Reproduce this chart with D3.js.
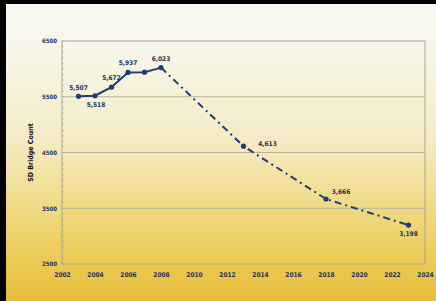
<!DOCTYPE html>
<html><head><meta charset="utf-8">
<script src="https://cdn.jsdelivr.net/npm/d3@7"></script>
<style>body{margin:0;background:#000}svg{display:block}</style>
</head><body>
<svg id="c" width="436" height="301"></svg>
<script>
const solidYears = [2003, 2004, 2005, 2006, 2007, 2008];
const solidValues = [5507, 5518, 5672, 5937, 5940, 6023];
const projYears = [2008, 2013, 2018, 2023];
const projValues = [6023, 4613, 3666, 3198];
const labelYears = [2003, 2004, 2005, 2006, 2008, 2013, 2018, 2023];
const labelTexts = ["5,507", "5,518", "5,672", "5,937", "6,023", "4,613", "3,666", "3,198"];
const xTicks = [2002, 2004, 2006, 2008, 2010, 2012, 2014, 2016, 2018, 2020, 2022, 2024];
const yTicks = [2500, 3500, 4500, 5500, 6500];
const yTitle = "SD Bridge Count";

const svg = d3.select("#c");
const W = 436, H = 301;
const defs = svg.append("defs");
const g = defs.append("linearGradient").attr("id","bg").attr("x1",0).attr("y1",0).attr("x2",0).attr("y2",1);
[[0,"#f9f8f2"],[0.15,"#f8f6ea"],[0.45,"#f4ebc6"],[0.68,"#f0da85"],[0.86,"#ecca55"],[1,"#e6bd3a"]]
  .forEach(([o,c])=>g.append("stop").attr("offset",o).attr("stop-color",c));

svg.append("rect").attr("x",6).attr("y",4).attr("width",W-6).attr("height",H-4).attr("fill","url(#bg)");

const m = {l:62, r:425, t:41, b:264};
const x = d3.scaleLinear().domain([2002,2024]).range([m.l,m.r]);
const y = d3.scaleLinear().domain([2500,6500]).range([m.b,m.t]);

svg.append("rect").attr("x",m.l).attr("y",m.t).attr("width",m.r-m.l).attr("height",m.b-m.t)
  .attr("fill","none").attr("stroke","#a8a78a").attr("stroke-width",1);
svg.append("g").selectAll("line").data(yTicks.slice(1,-1)).join("line")
  .attr("x1",m.l).attr("x2",m.r).attr("y1",d=>y(d)).attr("y2",d=>y(d))
  .attr("stroke","#b3b49c").attr("stroke-width",1);
const minor = d3.range(2500,6501,100);
svg.append("g").selectAll("line").data(minor).join("line")
  .attr("x1",m.l).attr("x2",m.l+2).attr("y1",d=>y(d)).attr("y2",d=>y(d))
  .attr("stroke","#a8a78a").attr("stroke-width",0.6);

const yAxis = d3.axisLeft(y).tickValues(yTicks).tickSize(0).tickPadding(5).tickFormat(d3.format("d"));
const ya = svg.append("g").attr("transform",`translate(${m.l},0)`).call(yAxis);
ya.select(".domain").remove();
ya.selectAll("text").attr("font-family","DejaVu Sans Condensed, DejaVu Sans").attr("font-weight","bold")
  .attr("font-size",6).attr("fill","#1c3260");

const xAxis = d3.axisBottom(x).tickValues(xTicks).tickSize(0).tickPadding(8).tickFormat(d3.format("d"));
const xa = svg.append("g").attr("transform",`translate(0,${m.b})`).call(xAxis);
xa.select(".domain").remove();
xa.selectAll("text").attr("font-family","DejaVu Sans Condensed, DejaVu Sans").attr("font-weight","bold")
  .attr("font-size",6.5).attr("fill","#1c3260");

svg.append("text").attr("transform",`translate(33,${(m.t+m.b)/2}) rotate(-90)`)
  .attr("text-anchor","middle").attr("font-family","DejaVu Sans Condensed, DejaVu Sans")
  .attr("font-weight","bold").attr("font-size",7).attr("fill","#111").text(yTitle);

const line = d3.line().x(d=>x(d[0])).y(d=>y(d[1]));
const col = "#1d3d78";
svg.append("path").datum(solidYears.map((d,i)=>[d,solidValues[i]])).attr("d",line)
  .attr("fill","none").attr("stroke",col).attr("stroke-width",2);
svg.append("path").datum(projYears.map((d,i)=>[d,projValues[i]])).attr("d",line)
  .attr("fill","none").attr("stroke",col).attr("stroke-width",2).attr("stroke-dasharray","7,4,2,4");

const pts = solidYears.map((d,i)=>[d,solidValues[i]]).concat(projYears.slice(1).map((d,i)=>[d,projValues[i+1]]));
svg.append("g").selectAll("circle").data(pts).join("circle")
  .attr("cx",d=>x(d[0])).attr("cy",d=>y(d[1])).attr("r",2.6).attr("fill",col);

const allY = solidYears.concat(projYears.slice(1));
const allV = solidValues.concat(projValues.slice(1));
const off = {2003:[0,-6],2004:[1,11],2005:[0,-7],2006:[0,-7],2008:[0,-7],2013:[24,0],2018:[15,-5],2023:[0,11]};
svg.append("g").selectAll("text").data(labelYears).join("text")
  .attr("x",(d)=>x(d)+off[d][0]).attr("y",(d)=>y(allV[allY.indexOf(d)])+off[d][1])
  .attr("text-anchor","middle").attr("font-family","DejaVu Sans Condensed, DejaVu Sans")
  .attr("font-weight","bold").attr("font-size",6.5).attr("fill","#1c3260")
  .text((d,i)=>labelTexts[i]);
</script>
</body></html>
